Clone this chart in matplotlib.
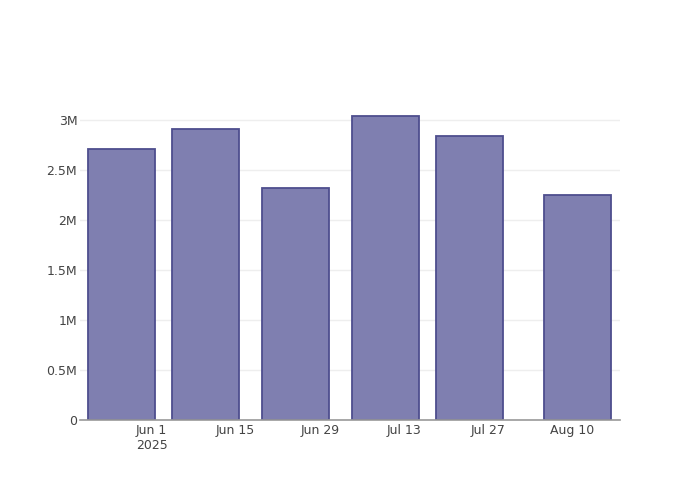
import matplotlib
matplotlib.use("Agg")
import matplotlib.pyplot as plt
import matplotlib.dates as mdates
import numpy as np

dates = ["2025-05-27", "2025-06-10", "2025-06-25", "2025-07-10", "2025-07-24", "2025-08-11"]
values = [2.71e6, 2.91e6, 2.32e6, 3.04e6, 2.84e6, 2.25e6]
xtick_dates = ["2025-06-01", "2025-06-15", "2025-06-29", "2025-07-13", "2025-07-27", "2025-08-10"]
xtick_labels = ["Jun 1\n2025", "Jun 15", "Jun 29", "Jul 13", "Jul 27", "Aug 10"]
ytick_vals = [0, 0.5e6, 1e6, 1.5e6, 2e6, 2.5e6, 3e6]
ytick_labels = ["0", "0.5M", "1M", "1.5M", "2M", "2.5M", "3M"]

plt.rcParams['font.family'] = ['DejaVu Sans']

fig = plt.figure(figsize=(7, 5), dpi=100)
ax = fig.add_axes([80/700, 80/500, 540/700, 320/500])

x = mdates.datestr2num(dates)
ax.bar(x, values, width=11.2, color="#7f7fb0", edgecolor="#4e4e8e", linewidth=1.3, zorder=3)

ax.set_xlim(mdates.datestr2num("2025-06-01") - 11.95, mdates.datestr2num("2025-06-01") + 78.05)
ax.set_ylim(0, 3.2e6)

ax.set_xticks(mdates.datestr2num(xtick_dates))
ax.set_xticklabels(xtick_labels, linespacing=1.2)
ax.set_yticks(ytick_vals)
ax.set_yticklabels(ytick_labels)

ax.tick_params(axis='both', length=0, labelsize=9, labelcolor="#444444")
ax.tick_params(axis='x', pad=3)
ax.tick_params(axis='y', pad=2)

ax.grid(axis='y', color="#eeeeee", linewidth=1, zorder=0)
for s in ["top", "right", "left"]:
    ax.spines[s].set_visible(False)
ax.spines["bottom"].set_color("#999999")
ax.spines["bottom"].set_linewidth(1.2)
ax.spines["bottom"].set_zorder(4)

fig.savefig("out.png", dpi=100)
